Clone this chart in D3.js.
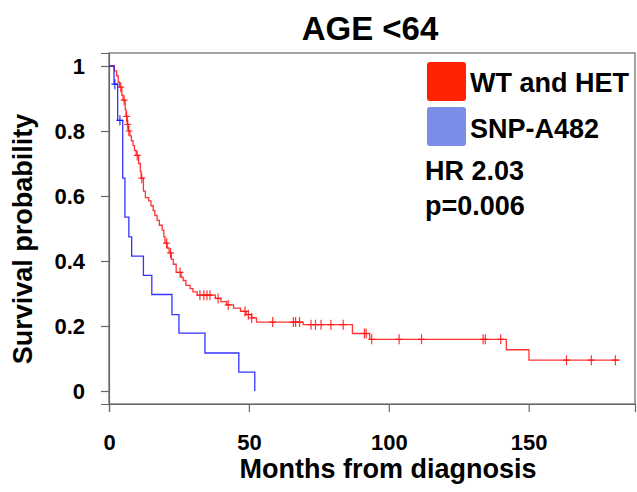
<!DOCTYPE html>
<html><head><meta charset="utf-8">
<script src="https://cdn.jsdelivr.net/npm/d3@7"></script>
<style>body{margin:0;background:#fff}text{font-family:Arial,"Liberation Sans",sans-serif;font-weight:bold}</style>
</head><body><svg id="c" width="637" height="492"></svg>
<script>
const title = "AGE <64";
const seriesNames = ["WT and HET", "SNP-A482"];
const xTicks = [0, 50, 100, 150];
const yTicks = [0, 0.2, 0.4, 0.6, 0.8, 1];
const yTickLabels = ["0", "0.2", "0.4", "0.6", "0.8", "1"];

const redTimes = [0, 1.9, 2.7, 3.3, 3.8, 4.6, 5.0, 5.8, 6.1, 6.5, 6.9, 7.5, 8.0, 8.6, 9.1, 9.7, 10.6, 11.2, 11.5, 12.3, 13.0, 14.2, 15.0, 15.8, 16.4, 17.2, 18.0, 19.0, 19.6, 20.0, 20.8, 21.5, 22.3, 23.0, 24.0, 25.8, 26.5, 27.5, 29.0, 30.0, 31.5, 38.0, 40.0, 42.0, 44.5, 47.0, 49.0, 51.0, 52.7, 69.4, 87.0, 93.2, 142.0, 150.1];
const redSurv  = [1, 0.985, 0.97, 0.95, 0.935, 0.91, 0.895, 0.865, 0.845, 0.82, 0.80, 0.785, 0.77, 0.755, 0.74, 0.725, 0.70, 0.675, 0.655, 0.615, 0.595, 0.585, 0.57, 0.555, 0.54, 0.525, 0.51, 0.495, 0.475, 0.455, 0.44, 0.425, 0.405, 0.39, 0.365, 0.35, 0.34, 0.325, 0.315, 0.305, 0.295, 0.285, 0.275, 0.265, 0.255, 0.245, 0.235, 0.225, 0.212, 0.204, 0.177, 0.159, 0.127, 0.095];
const redEnd = 182.5;
const redCensor = [4.2, 5.4, 6.3, 6.7, 7.1, 10.1, 11.7, 20.6, 22.0, 25.4, 32.5, 33.9, 35.0, 36.1, 39.0, 42.6, 48.6, 49.8, 51.0, 58.5, 65.9, 66.7, 68.1, 72.2, 73.8, 75.8, 79.3, 83.7, 91.3, 91.9, 93.9, 103.7, 111.7, 133.7, 134.5, 140.0, 163.5, 172.4, 181.0];

const blueTimes = [0, 1.8, 3.1, 4.9, 5.7, 7.1, 8.1, 12.3, 15.3, 22.5, 25.0, 34.3, 46.4, 52.1];
const blueSurv  = [1, 0.944, 0.833, 0.655, 0.535, 0.474, 0.415, 0.356, 0.297, 0.235, 0.178, 0.117, 0.058, 0];
const blueEnd = 52.1;
const blueCensor = [2.1, 3.9];

const statsText = ["HR 2.03", "p=0.006"];

const svg = d3.select("#c");
const L = 109, R = 635, T = 53, B = 404;
const x = d3.scaleLinear().domain([0, 188]).range([L, R]);
const y = d3.scaleLinear().domain([-0.04, 1.04]).range([B, T]);

// frame
svg.append("rect").attr("x", L).attr("y", T).attr("width", R - L).attr("height", B - T)
  .attr("fill", "none").attr("stroke", "#666").attr("stroke-width", 1.2);

const xAxis = svg.append("g").attr("transform", `translate(0,${B})`)
  .call(d3.axisBottom(x).tickValues(xTicks).tickSize(8).tickPadding(22).tickFormat(d3.format("d")));
const yAxis = svg.append("g").attr("transform", `translate(${L},0)`)
  .call(d3.axisLeft(y).tickValues(yTicks).tickSize(8).tickPadding(16).tickFormat((d, i) => yTickLabels[i]));
[xAxis, yAxis].forEach(g => {
  g.select(".domain").attr("stroke", "#666").attr("stroke-width", 1.2);
  g.selectAll(".tick line").attr("stroke", "#666").attr("stroke-width", 1.2);
  g.selectAll(".tick text").attr("font-size", 22).attr("font-family", "Arial,'Liberation Sans',sans-serif").attr("font-weight", "bold").attr("fill", "#000");
});

function stepData(times, surv, end) {
  const pts = times.map((t, i) => [t, surv[i]]);
  if (end > times[times.length - 1]) pts.push([end, surv[surv.length - 1]]);
  return pts;
}
function survAt(times, surv, t) {
  let s = surv[0];
  for (let i = 0; i < times.length; i++) if (times[i] <= t) s = surv[i];
  return s;
}
const line = d3.line().x(d => x(d[0])).y(d => y(d[1])).curve(d3.curveStepAfter);

function drawSeries(times, surv, end, censor, color) {
  svg.append("path").datum(stepData(times, surv, end))
    .attr("d", line).attr("fill", "none").attr("stroke", color).attr("stroke-width", 1.3).attr("stroke-opacity", 0.85);
  svg.append("g").selectAll("path").data(censor).join("path")
    .attr("d", t => {
      const cx = x(t), cy = y(survAt(times, surv, t));
      return `M${cx - 3.5},${cy}H${cx + 3.5}M${cx},${cy - 5}V${cy + 5}`;
    })
    .attr("stroke", color).attr("stroke-width", 1.2).attr("stroke-opacity", 0.85);
}
drawSeries(redTimes, redSurv, redEnd, redCensor, "#ff1010");
drawSeries(blueTimes, blueSurv, blueEnd, blueCensor, "#1010ff");

// title and labels
svg.append("text").attr("x", 370).attr("y", 40).attr("text-anchor", "middle").attr("font-size", 33).text(title);
svg.append("text").attr("x", 388).attr("y", 478).attr("text-anchor", "middle").attr("font-size", 27).text("Months from diagnosis");
svg.append("text").attr("transform", "translate(32,239) rotate(-90)").attr("text-anchor", "middle").attr("font-size", 27).text("Survival probability");

// legend
const legColors = ["#ff2200", "#7a8ee8"];
const leg = svg.append("g");
seriesNames.forEach((n, i) => {
  leg.append("rect").attr("x", 427).attr("y", 62 + i * 45).attr("width", 39).attr("height", 39).attr("rx", 3).attr("fill", legColors[i]);
  leg.append("text").attr("x", 470).attr("y", 92 + i * 46).attr("font-size", 27).text(n);
});
statsText.forEach((s, i) => {
  svg.append("text").attr("x", 425).attr("y", 180 + i * 35).attr("font-size", 27).text(s);
});
</script></body></html>
